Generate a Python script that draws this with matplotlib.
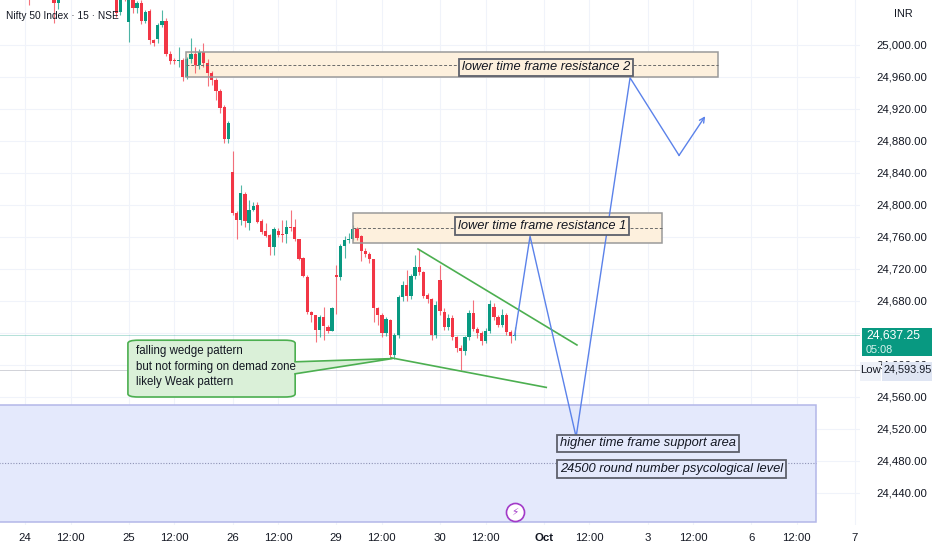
import numpy as np
import matplotlib.pyplot as plt
from matplotlib.patches import Rectangle, FancyBboxPatch, Polygon

plt.rcParams['font.family'] = ['Liberation Sans', 'DejaVu Sans']

# 15 min candles, bar 0 = 24 Sep 09:15 (25 bars per session)
first_bar = -6
opens = [25150, 25140, 25125, 25135, 25120, 25110,
         25100, 25085, 25065, 25085, 25095, 25090, 25075, 25065, 25052, 25075,
         25090, 25100, 25095, 25088, 25096, 25092, 25084, 25090, 25086, 25076,
         25082, 25072, 25070, 25041, 25065,
         25029, 25058, 25046, 25052, 25030, 25042, 25006, 25007, 25025, 25030,
         24989, 24981, 24980, 24981, 24960, 24982, 24989, 24975, 24991, 24978,
         24965, 24956, 24942, 24922, 24882,
         24841, 24790, 24781, 24814, 24778, 24794, 24800, 24780, 24768, 24762,
         24748, 24768, 24763, 24764, 24772, 24772, 24757, 24734, 24710, 24666,
         24662, 24644, 24660, 24647, 24643,
         24713, 24710, 24749, 24756, 24758, 24770, 24761, 24743, 24739, 24732,
         24671, 24663, 24640, 24656, 24612, 24637, 24685, 24700, 24686, 24711,
         24723, 24716, 24687, 24682, 24637,
         24706, 24666, 24647, 24659, 24635, 24621, 24618, 24635, 24665, 24645,
         24640, 24630, 24642, 24672, 24660, 24650, 24662, 24641, 24636]
highs = [25165, 25150, 25140, 25145, 25130, 25125,
         25115, 25095, 25090, 25100, 25110, 25098, 25085, 25070, 25080, 25095,
         25105, 25112, 25105, 25100, 25108, 25100, 25095, 25102, 25094, 25088,
         25090, 25085, 25078, 25072, 25075,
         25092, 25066, 25055, 25056, 25044, 25045, 25008, 25028, 25044, 25034,
         24992, 24984, 24997, 24984, 24985, 25009, 24997, 24995, 25002, 24982,
         24968, 24959, 24945, 24925, 24905,
         24868, 24792, 24825, 24816, 24806, 24804, 24804, 24782, 24777, 24764,
         24772, 24771, 24781, 24781, 24794, 24783, 24758, 24735, 24712, 24667,
         24663, 24662, 24673, 24650, 24673,
         24725, 24751, 24761, 24765, 24775, 24773, 24763, 24746, 24741, 24733,
         24673, 24665, 24660, 24658, 24640, 24688, 24705, 24719, 24714, 24737,
         24745, 24718, 24690, 24684, 24680,
         24725, 24671, 24664, 24662, 24636, 24625, 24636, 24669, 24681, 24647,
         24642, 24646, 24681, 24677, 24662, 24670, 24665, 24644, 24647]
lows = [25135, 25120, 25110, 25115, 25100, 25095,
        25080, 25050, 25060, 25075, 25085, 25070, 25060, 25027, 25045, 25070,
        25080, 25090, 25085, 25078, 25088, 25080, 25074, 25082, 25070, 25068,
        25066, 25062, 25035, 25038, 25055,
        25004, 25040, 25040, 25026, 25027, 25001, 24999, 25002, 25022, 24986,
        24976, 24976, 24972, 24955, 24957, 24978, 24965, 24970, 24972, 24949,
        24950, 24931, 24915, 24877, 24878,
        24787, 24758, 24775, 24773, 24769, 24792, 24777, 24764, 24760, 24737,
        24737, 24760, 24754, 24752, 24768, 24755, 24731, 24710, 24664, 24654,
        24629, 24635, 24631, 24640, 24642,
        24664, 24706, 24734, 24752, 24756, 24756, 24730, 24735, 24728, 24654,
        24650, 24635, 24636, 24610, 24608, 24634, 24680, 24680, 24682, 24708,
        24712, 24684, 24678, 24631, 24634,
        24662, 24644, 24644, 24631, 24616, 24593.95, 24612, 24631, 24642, 24634,
        24625, 24627, 24640, 24656, 24647, 24647, 24637, 24627, 24631]
closes = [25140, 25125, 25135, 25120, 25110, 25115,
          25085, 25065, 25085, 25095, 25090, 25075, 25065, 25052, 25075, 25090,
          25100, 25095, 25088, 25096, 25092, 25084, 25090, 25086, 25076, 25082,
          25072, 25070, 25040, 25065, 25060,
          25062, 25046, 25052, 25030, 25041, 25006, 25003, 25025, 25030, 24989,
          24980, 24980, 24981, 24960, 24982, 24989, 24975, 24991, 24977, 24965,
          24956, 24942, 24921, 24882, 24902,
          24790, 24781, 24815, 24780, 24794, 24799, 24779, 24766, 24761, 24748,
          24770, 24762, 24762, 24772, 24771, 24757, 24733, 24711, 24666, 24662,
          24644, 24660, 24649, 24643, 24671,
          24710, 24749, 24756, 24757, 24770, 24759, 24743, 24739, 24732, 24671,
          24663, 24640, 24657, 24612, 24637, 24685, 24700, 24686, 24711, 24722,
          24716, 24686, 24683, 24637, 24675,
          24667, 24647, 24659, 24635, 24621, 24618, 24635, 24665, 24645, 24640,
          24630, 24642, 24676, 24660, 24650, 24662, 24641, 24636, 24637.25]

last_price = 24637.25
last_time = '05:08'
day_low = 24593.95

day_pos = [0, 25, 50, 75, 100, 125, 150, 175, 200]
day_labels = ['24', '25', '26', '29', '30', 'Oct', '3', '6', '7']
noon_offset = 11
price_ticks = np.arange(24440, 25001, 40)

# drawings (bar index, price)
res2_zone = (38.9, 167.1, 24959.6, 24991.6)
res1_zone = (79.0, 153.4, 24752.5, 24790.0)
sup_zone = (-7.0, 190.6, 24404.0, 24550.0)
res2_label = (125.5, 24972, 'lower time frame resistance 2')
res1_label = (124.6, 24774, 'lower time frame resistance 1')
sup_label1 = (128.9, 24502, 'higher time frame support area')
sup_label2 = (128.9, 24470, '24500 round number psycological level')
wedge_top = [(94.7, 24745), (133.0, 24625)]
wedge_bottom = [(88.2, 24609), (125.6, 24572)]
path_bars = [118, 121.7, 132.8, 145.8, 157.6, 163.9]
path_prices = [24637, 24761, 24510, 24959, 24862, 24911]
callout_box = (24.8, 65.1, 24560, 24631)
callout_tip = (88.5, 24608)
callout_text = 'falling wedge pattern\nbut not forming on demad zone\nlikely Weak pattern'

UP = '#089981'
DOWN = '#f23645'
TXT = '#131722'

fig = plt.figure(figsize=(9.32, 5.5), dpi=100)
ax = fig.add_axes([0, 25 / 550, 860 / 932, 525 / 550])

x = np.arange(first_bar, first_bar + len(opens))
o = np.array(opens, float)
h = np.array(highs, float)
l = np.array(lows, float)
c = np.array(closes, float)
col = np.where(c >= o, UP, DOWN)

# zones
for (x0, x1, p0, p1) in [res2_zone, res1_zone]:
    ax.add_patch(Rectangle((x0, p0), x1 - x0, p1 - p0, facecolor='#fdf0dd',
                           edgecolor='none', zorder=1))
    ax.add_patch(Rectangle((x0, p0), x1 - x0, p1 - p0, facecolor='none',
                           edgecolor='#9a9a9a', lw=1.1, zorder=4))
    ax.plot([x0, x1], [(p0 + p1) / 2] * 2, color='#6b6b6b', lw=0.7,
            ls=(0, (3, 2)), zorder=4)
x0, x1, p0, p1 = sup_zone
ax.add_patch(Rectangle((x0, p0), x1 - x0, p1 - p0, facecolor='#e4e9fc',
                       edgecolor='#b3b7e8', lw=1.1, zorder=1))
ax.plot([x0, x1], [(p0 + p1) / 2] * 2, color='#8e93b5', lw=0.8,
        ls=(0, (1, 1.5)), zorder=2)

# price lines
ax.axhline(last_price, color=UP, lw=0.7, alpha=0.3, zorder=2)
ax.axhline(day_low, color='#b2b5be', lw=0.7, alpha=0.6, zorder=2)

# candles
ax.vlines(x, l, h, colors=col, lw=0.8, alpha=0.7, zorder=3)
ax.bar(x, np.maximum(np.abs(c - o), 1.3), bottom=np.minimum(o, c), width=0.78,
       color=col, linewidth=0, zorder=3)

# wedge lines
for seg in [wedge_top, wedge_bottom]:
    ax.plot([seg[0][0], seg[1][0]], [seg[0][1], seg[1][1]], color='#4caf50',
            lw=1.2, zorder=5)

# projection path
ax.plot(path_bars[:-1], path_prices[:-1], color='#5b82ea', lw=1.0, zorder=6)
ax.annotate('', xy=(path_bars[-1], path_prices[-1]),
            xytext=(path_bars[-2], path_prices[-2]),
            arrowprops=dict(arrowstyle='->', color='#5b82ea', lw=1.0,
                            shrinkA=0, shrinkB=0, mutation_scale=9), zorder=6)

# labels
lab = dict(style='italic', fontsize=9.3, color=TXT, zorder=7)
ax.text(res2_label[0], res2_label[1], res2_label[2], ha='center', va='center',
        bbox=dict(boxstyle='square,pad=0.22', fc='#fdf0dd', ec='#5d606b', lw=1.3), **lab)
ax.text(res1_label[0], res1_label[1], res1_label[2], ha='center', va='center',
        bbox=dict(boxstyle='square,pad=0.22', fc='#fdf0dd', ec='#5d606b', lw=1.3), **lab)
for sl in [sup_label1, sup_label2]:
    ax.text(sl[0], sl[1], sl[2], ha='left', va='center',
            bbox=dict(boxstyle='square,pad=0.22', fc='#e4e9fc', ec='#5d606b', lw=1.3), **lab)

# callout
bx0, bx1, bp0, bp1 = callout_box
ax.add_patch(FancyBboxPatch((bx0, bp0), bx1 - bx0, bp1 - bp0,
                            boxstyle='round,pad=0,rounding_size=2.5',
                            mutation_aspect=1.56,
                            fc='#daf0d8', ec='#4caf50', lw=1.2, zorder=6))
base_hi, base_lo = 24604, 24589
ax.add_patch(Polygon([(bx1 - 0.6, base_hi), callout_tip, (bx1 - 0.6, base_lo)],
                     closed=True, fc='#daf0d8', ec='none', zorder=6))
ax.plot([bx1, callout_tip[0], bx1], [base_hi, callout_tip[1], base_lo],
        color='#4caf50', lw=1.2, zorder=6)
ax.text(bx0 + 1.9, bp1 - 6, callout_text, ha='left', va='top', fontsize=8.3,
        color=TXT, linespacing=1.4, zorder=7)

# lightning marker
ax.plot(118, 24416, 'o', ms=13, mfc='white', mec='#a23bc8', mew=1.2, zorder=7)
ax.text(118, 24416, '\u26a1', ha='center', va='center', fontsize=7.5,
        color='#a23bc8', family=['DejaVu Sans'], zorder=8)

# axes
ax.set_xlim(-25 / 4.15, 835 / 4.15)
ax.set_ylim(24400, 25056.25)
for s in ax.spines.values():
    s.set_visible(False)

xt, xl = [], []
for p, d in zip(day_pos, day_labels):
    xt.append(p)
    xl.append(d)
    if p + noon_offset < 200:
        xt.append(p + noon_offset)
        xl.append('12:00')
ax.set_xticks(xt)
ax.set_xticklabels(xl)
for t in ax.get_xticklabels():
    if t.get_text() == 'Oct':
        t.set_fontweight('bold')
ax.yaxis.tick_right()
ax.set_yticks(price_ticks)
# the 24,640 level sits under the last price badge
ax.set_yticklabels(['' if v == 24640 else f'{v:,.2f}' for v in price_ticks])
ax.tick_params(axis='both', length=0, labelsize=8.2, labelcolor=TXT)
ax.tick_params(axis='x', pad=6)
ax.tick_params(axis='y', pad=11.5)
ax.grid(True, color='#f0f3fa', lw=0.8, zorder=0)
ax.set_axisbelow(True)

# right scale badges
tr = ax.get_yaxis_transform()
ax.add_patch(Rectangle((1.0023, 24611), 0.0814, 35, transform=tr, fc=UP,
                       ec='none', clip_on=False, zorder=10))
ax.text(1.007, 24636.5, f'{last_price:,.2f}', transform=tr, color='white',
        fontsize=8.8, va='center', ha='left', clip_on=False, zorder=11)
ax.text(1.007, 24619, last_time, transform=tr, color='#d8f3ee',
        fontsize=7.8, va='center', ha='left', clip_on=False, zorder=11)
ax.add_patch(Rectangle((1.0, 24580), 0.0244, 24, transform=tr, fc='#eef1f8',
                       ec='none', clip_on=False, zorder=10))
ax.text(1.0122, day_low, 'Low', transform=tr, color=TXT, fontsize=8.2,
        va='center', ha='center', clip_on=False, zorder=11)
ax.add_patch(Rectangle((1.0256, 24580), 0.058, 24, transform=tr, fc='#dfe5f3',
                       ec='none', clip_on=False, zorder=10))
ax.text(1.0275, day_low, f'{day_low:,.2f}', transform=tr, color=TXT,
        fontsize=7.8, va='center', ha='left', clip_on=False, zorder=11)

fig.text(903 / 932, 1 - 14 / 550, 'INR', ha='center', va='center',
         fontsize=7.8, color=TXT)
fig.text(6 / 932, 1 - 16 / 550, 'Nifty 50 Index \u00b7 15 \u00b7 NSE', ha='left',
         va='center', fontsize=7.3, color=TXT)

fig.savefig('out.png', dpi=100, facecolor='white')
